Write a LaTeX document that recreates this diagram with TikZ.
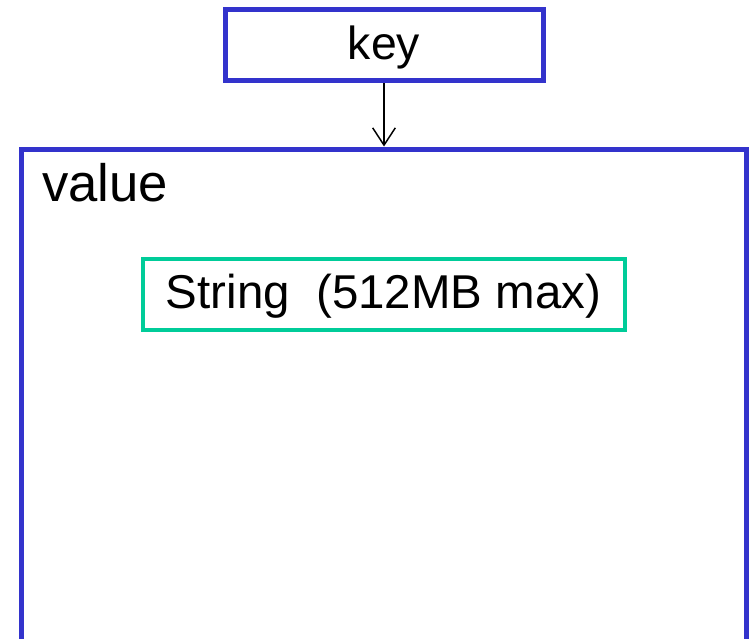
\documentclass[tikz,border=0pt]{standalone}
\usepackage{fontspec}
\setmainfont{Liberation Sans}
\usetikzlibrary{arrows.meta}
\definecolor{boxblue}{HTML}{3333CC}
\definecolor{boxteal}{HTML}{00CC99}
\tikzset{
  outerbox/.style={draw=boxblue, line width=3.75pt, rectangle, inner sep=0pt},
  innerbox/.style={draw=boxteal, line width=3pt, rectangle, inner sep=0pt},
  boxtext/.style={anchor=base, inner sep=0pt, text=black},
  link/.style={line width=1.1pt, -{Straight Barb[length=13pt, width=17pt, line width=1.1pt]}}
}
\begin{document}
\begin{tikzpicture}[x=0.75pt, y=-0.75pt]
  \useasboundingbox (0,0) rectangle (751,639);
  \clip (0,0) rectangle (751,639);
  % key box
  \node[outerbox, minimum width=238.5pt, minimum height=53.25pt] (key) at (384,45) {};
  \node[boxtext, font=\fontsize{34.8}{40}\selectfont] (keytext) at (384,60) {key};
  % value container (runs off the bottom edge)
  \node[outerbox, anchor=north, minimum width=543.75pt, minimum height=420pt] (value) at (383.5,146.5) {};
  \node[boxtext, anchor=base west, font=\fontsize{39.5}{46}\selectfont] (valuetext) at (42,201) {value};
  % string entry
  \node[innerbox, minimum width=361.5pt, minimum height=52.9pt] (string) at (384,294.75) {};
  \node[boxtext, font=\fontsize{35.6}{42}\selectfont] (stringtext) at (383.5,308) {String\ \ (512MB max)};
  % key -> value
  \draw[link] (key.south) -- (key.south |- value.north);
\end{tikzpicture}
\end{document}
